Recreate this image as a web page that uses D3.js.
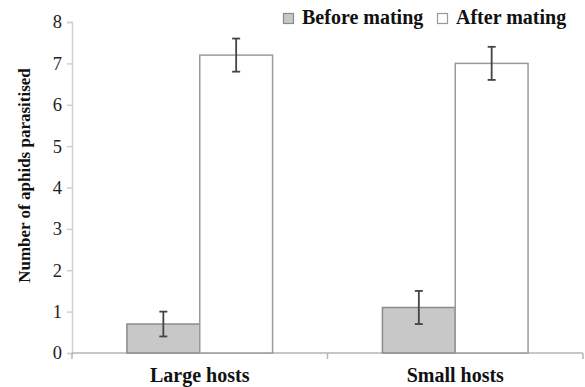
<!DOCTYPE html>
<html>
<head>
<meta charset="utf-8">
<script src="https://cdn.jsdelivr.net/npm/d3@7"></script>
<style>
  body { margin: 0; background: #fff; }
  text { font-family: "Liberation Serif", "Times New Roman", serif; }
</style>
</head>
<body>
<div id="chart"></div>
<script>
// Data
const categories = ["Large hosts", "Small hosts"];
const seriesNames = ["Before mating", "After mating"];
const beforeMean = [0.7, 1.1];
const beforeErr = [0.3, 0.4];
const afterMean = [7.2, 7.0];
const afterErr = [0.4, 0.4];
const yTicks = [0, 1, 2, 3, 4, 5, 6, 7, 8];

const colors = { "Before mating": "#c8c8c8", "After mating": "#ffffff" };
const strokes = { "Before mating": "#8a8a8a", "After mating": "#9a9a9a" };

// Build rows for drawing
const rows = [];
categories.forEach((c, i) => {
  rows.push({ cat: c, series: "Before mating", value: beforeMean[i], err: beforeErr[i] });
  rows.push({ cat: c, series: "After mating", value: afterMean[i], err: afterErr[i] });
});

const width = 585, height = 387;
const margin = { top: 22, right: 2, bottom: 34, left: 72 };
const innerW = width - margin.left - margin.right;
const innerH = height - margin.top - margin.bottom;

const svg = d3.select("#chart").append("svg")
  .attr("width", width)
  .attr("height", height);

const chart = svg.append("g")
  .attr("transform", `translate(${margin.left},${margin.top})`);

// Scales
const x0 = d3.scaleBand()
  .domain(categories)
  .range([0, innerW])
  .paddingInner(0.43)
  .paddingOuter(0.215);

const x1 = d3.scaleBand()
  .domain(seriesNames)
  .range([0, x0.bandwidth()]);

const y = d3.scaleLinear()
  .domain([0, 8])
  .range([innerH, 0]);

// Y axis
const yAxis = chart.append("g")
  .call(d3.axisLeft(y).tickValues(yTicks).tickSize(5).tickPadding(5).tickFormat(d3.format("d")));
yAxis.select(".domain").attr("stroke", "#cfcfcf").attr("stroke-width", 1.5);
yAxis.selectAll(".tick line").attr("stroke", "#cfcfcf").attr("stroke-width", 1.5);
yAxis.selectAll(".tick text")
  .attr("font-size", 18.5)
  .attr("fill", "#222")
  .style("font-family", "'Liberation Serif', serif");

// X axis with boundary ticks
const xAxisG = chart.append("g").attr("transform", `translate(0,${innerH})`);
xAxisG.append("line")
  .attr("x1", 0).attr("x2", innerW)
  .attr("stroke", "#b5b5b5").attr("stroke-width", 1.5);
const boundaries = [0, x0.step() * 1, innerW];
xAxisG.selectAll(".bt").data(boundaries).enter().append("line")
  .attr("x1", d => d).attr("x2", d => d)
  .attr("y1", 0).attr("y2", 6)
  .attr("stroke", "#b5b5b5").attr("stroke-width", 1.5);
xAxisG.selectAll(".cat").data(categories).enter().append("text")
  .attr("x", d => x0(d) + x0.bandwidth() / 2)
  .attr("y", 29)
  .attr("text-anchor", "middle")
  .attr("font-size", 20)
  .attr("font-weight", "bold")
  .attr("fill", "#111")
  .text(d => d);

// Bars
const bars = chart.selectAll(".bar").data(rows).enter().append("g");
bars.append("rect")
  .attr("x", d => x0(d.cat) + x1(d.series))
  .attr("y", d => y(d.value))
  .attr("width", x1.bandwidth())
  .attr("height", d => innerH - y(d.value))
  .attr("fill", d => colors[d.series])
  .attr("stroke", d => strokes[d.series])
  .attr("stroke-width", 1.5);

// Error bars
const cx = d => x0(d.cat) + x1(d.series) + x1.bandwidth() / 2;
bars.append("line")
  .attr("x1", cx).attr("x2", cx)
  .attr("y1", d => y(d.value - d.err))
  .attr("y2", d => y(d.value + d.err))
  .attr("stroke", "#444").attr("stroke-width", 1.8);
[-1, 1].forEach(s => {
  bars.append("line")
    .attr("x1", d => cx(d) - 4).attr("x2", d => cx(d) + 4)
    .attr("y1", d => y(d.value + s * d.err))
    .attr("y2", d => y(d.value + s * d.err))
    .attr("stroke", "#444").attr("stroke-width", 1.8);
});

// Y axis label
svg.append("text")
  .attr("transform", `translate(30,${margin.top + innerH / 2 - 12}) rotate(-90)`)
  .attr("text-anchor", "middle")
  .attr("font-size", 17)
  .attr("font-weight", "bold")
  .attr("fill", "#111")
  .text("Number of aphids parasitised");

// Legend
const legend = svg.append("g").attr("transform", "translate(283,13)");
const legendX = [0, 154];
seriesNames.forEach((s, i) => {
  const g = legend.append("g").attr("transform", `translate(${legendX[i]},0)`);
  g.append("rect")
    .attr("x", 0.5).attr("y", 0.5)
    .attr("width", 10).attr("height", 10)
    .attr("fill", colors[s])
    .attr("stroke", strokes[s])
    .attr("stroke-width", 1.2);
  g.append("text")
    .attr("x", 19).attr("y", 11)
    .attr("font-size", 20)
    .attr("font-weight", "bold")
    .attr("fill", "#111")
    .text(s);
});
</script>
</body>
</html>
